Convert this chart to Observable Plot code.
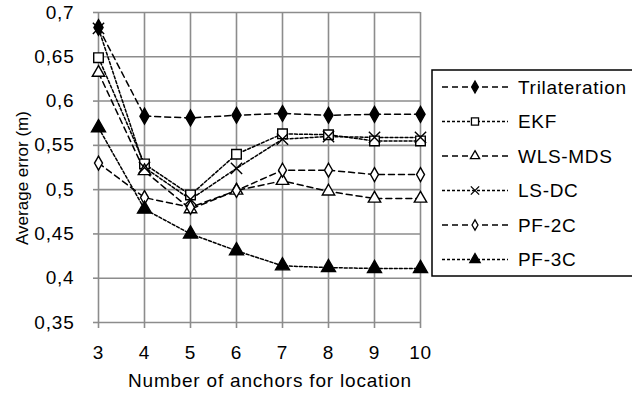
<!DOCTYPE html>
<html>
<head>
<meta charset="utf-8">
<script src="https://cdn.jsdelivr.net/npm/d3@7"></script>
<script src="https://cdn.jsdelivr.net/npm/@observablehq/plot@0.6"></script>
<style>
  body { margin: 0; background: #fff; }
  #wrap { position: relative; width: 632px; height: 394px; overflow: hidden; }
  #wrap svg { position: absolute; left: 0; top: 0; }
</style>
</head>
<body>
<div id="wrap"></div>
<script>
const anchors = [3, 4, 5, 6, 7, 8, 9, 10];
const trilateration = [0.683, 0.583, 0.581, 0.584, 0.586, 0.584, 0.585, 0.585];
const ekf          = [0.649, 0.529, 0.494, 0.540, 0.563, 0.562, 0.555, 0.555];
const wlsMds       = [0.632, 0.521, 0.478, 0.499, 0.510, 0.498, 0.490, 0.490];
const lsDc         = [0.682, 0.525, 0.489, 0.524, 0.557, 0.560, 0.559, 0.559];
const pf2c         = [0.530, 0.491, 0.480, 0.499, 0.522, 0.522, 0.517, 0.517];
const pf3c         = [0.570, 0.478, 0.450, 0.431, 0.414, 0.412, 0.411, 0.411];
const seriesNames = ["Trilateration", "EKF", "WLS-MDS", "LS-DC", "PF-2C", "PF-3C"];
const yTicks = [0.35, 0.4, 0.45, 0.5, 0.55, 0.6, 0.65, 0.7];
const xLabel = "Number of anchors for location";
const yLabel = "Average error (m)";

const seriesValues = [trilateration, ekf, wlsMds, lsDc, pf2c, pf3c];
const styles = [
  {symbol: "diamond", fill: "black", stroke: "black", r: 4.8, dash: "6,4"},
  {symbol: "square", fill: "white", stroke: "black", r: 5.4, dash: "3,2"},
  {symbol: "triangle", fill: "white", stroke: "black", r: 4.6, dash: "6,4"},
  {symbol: "times", fill: "none", stroke: "black", r: 5.2, dash: "3,2"},
  {symbol: "diamond", fill: "white", stroke: "black", r: 4.2, dash: "6,4"},
  {symbol: "triangle", fill: "black", stroke: "black", r: 5.2, dash: "3,2"}
];

const data = [];
seriesNames.forEach((name, i) => {
  anchors.forEach((a, j) => data.push({series: name, idx: i, x: a, y: seriesValues[i][j]}));
});

const fmt = d => d3.format(".2~f")(d).replace(".", ",");
const FONT = "Liberation Sans, Arial, sans-serif";

const marks = [
  Plot.gridX(anchors, {stroke: "#8c8c8c", strokeOpacity: 1, strokeWidth: 1.6}),
  Plot.gridY(yTicks, {stroke: "#8c8c8c", strokeOpacity: 1, strokeWidth: 1.6}),
  Plot.axisX({ticks: anchors, tickSize: 6, tickPadding: 17, stroke: "#8c8c8c", strokeWidth: 1.6, fill: "black", label: null, tickFormat: d => String(d), fontSize: 19}),
  Plot.axisY({ticks: yTicks, tickSize: 5, tickPadding: 19, stroke: "#8c8c8c", strokeWidth: 1.6, fill: "black", label: null, tickFormat: fmt, fontSize: 19})
];
seriesNames.forEach((name, i) => {
  const s = styles[i];
  const d = data.filter(e => e.idx === i);
  marks.push(Plot.line(d, {x: "x", y: "y", stroke: "black", strokeWidth: 1.5, strokeDasharray: s.dash}));
});
seriesNames.forEach((name, i) => {
  const s = styles[i];
  const d = data.filter(e => e.idx === i);
  marks.push(Plot.dot(d, {x: "x", y: "y", symbol: () => s.symbol, fill: s.fill, stroke: s.stroke, strokeWidth: 1.4, r: s.r}));
});

const chart = Plot.plot({
  width: 632,
  height: 394,
  marginLeft: 98,
  marginRight: 212,
  marginTop: 12,
  marginBottom: 72,
  style: {fontFamily: FONT, fontSize: "19px", background: "white", color: "black", letterSpacing: "0.8px"},
  x: {domain: [3, 10], type: "linear"},
  y: {domain: [0.35, 0.7]},
  symbol: {type: "identity"},
  marks
});
document.getElementById("wrap").appendChild(chart);

// Overlay: axis titles and legend
const ov = d3.select("#wrap").append("svg")
  .attr("width", 632).attr("height", 394)
  .style("font-family", FONT).style("font-size", "19px").style("letter-spacing", "0.8px");
ov.append("text").attr("x", 270).attr("y", 380).attr("text-anchor", "middle")
  .attr("dominant-baseline", "central").attr("fill", "black").text(xLabel);
ov.append("text").attr("transform", "translate(22,178) rotate(-90)").attr("text-anchor", "middle")
  .attr("dominant-baseline", "central").attr("fill", "black")
  .style("font-size", "17px").style("letter-spacing", "0px").text(yLabel);

ov.append("rect").attr("x", 432).attr("y", 70).attr("width", 230).attr("height", 206)
  .attr("fill", "white").attr("stroke", "black").attr("stroke-width", 1.5);
const symMap = {diamond: d3.symbolDiamond, square: d3.symbolSquare, triangle: d3.symbolTriangle, times: d3.symbolTimes};
seriesNames.forEach((name, i) => {
  const s = styles[i];
  const y = 87 + i * 34.5;
  ov.append("line").attr("x1", 442).attr("x2", 508).attr("y1", y).attr("y2", y)
    .attr("stroke", "black").attr("stroke-width", 1.5).attr("stroke-dasharray", s.dash);
  ov.append("path").attr("d", d3.symbol(symMap[s.symbol], s.r * s.r * Math.PI * 0.55)())
    .attr("transform", `translate(475,${y})`)
    .attr("fill", s.fill).attr("stroke", s.stroke).attr("stroke-width", 1.3);
  ov.append("text").attr("x", 518).attr("y", y).attr("dy", "0.35em").attr("fill", "black")
    .style("font-size", "19px").style("letter-spacing", "0.7px").text(name);
});
</script>
</body>
</html>
